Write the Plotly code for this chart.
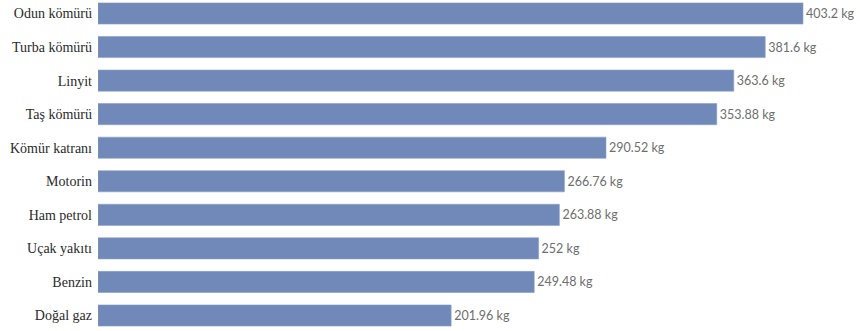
import plotly.graph_objects as go

categories = ["Odun kömürü", "Turba kömürü", "Linyit", "Taş kömürü", "Kömür katranı",
              "Motorin", "Ham petrol", "Uçak yakıtı", "Benzin", "Doğal gaz"]
values = [403.2, 381.6, 363.6, 353.88, 290.52, 266.76, 263.88, 252, 249.48, 201.96]
value_labels = ["403.2 kg", "381.6 kg", "363.6 kg", "353.88 kg", "290.52 kg",
                "266.76 kg", "263.88 kg", "252 kg", "249.48 kg", "201.96 kg"]

fig = go.Figure(go.Bar(
    x=values, y=categories, orientation="h",
    marker=dict(color="#7189b9", line=dict(color="#8a9fc8", width=0.6)),
    width=0.63,
    text=value_labels, textposition="outside", cliponaxis=False,
    textfont=dict(family="Lato", size=12.5, color="#6e6e6e"),
    hoverinfo="skip",
))

fig.update_layout(
    width=860, height=331,
    margin=dict(l=98, r=0, t=0, b=0, autoexpand=False),
    paper_bgcolor="white", plot_bgcolor="white",
    showlegend=False,
    xaxis=dict(range=[0, 435.8], visible=False, showgrid=False, zeroline=False,
               automargin=False),
    yaxis=dict(
        categoryorder="array", categoryarray=categories,
        range=[9.462, -0.402], automargin=False,
        showgrid=False, zeroline=False, showline=False,
        ticks="", ticklabelstandoff=5,
        tickfont=dict(family="Liberation Serif", size=14, color="#2a2a2a"),
    ),
)

fig.write_html("out.html",
               config={"displayModeBar": False, "staticPlot": True},
               post_script="document.body.style.margin='0';document.body.style.padding='0';")
